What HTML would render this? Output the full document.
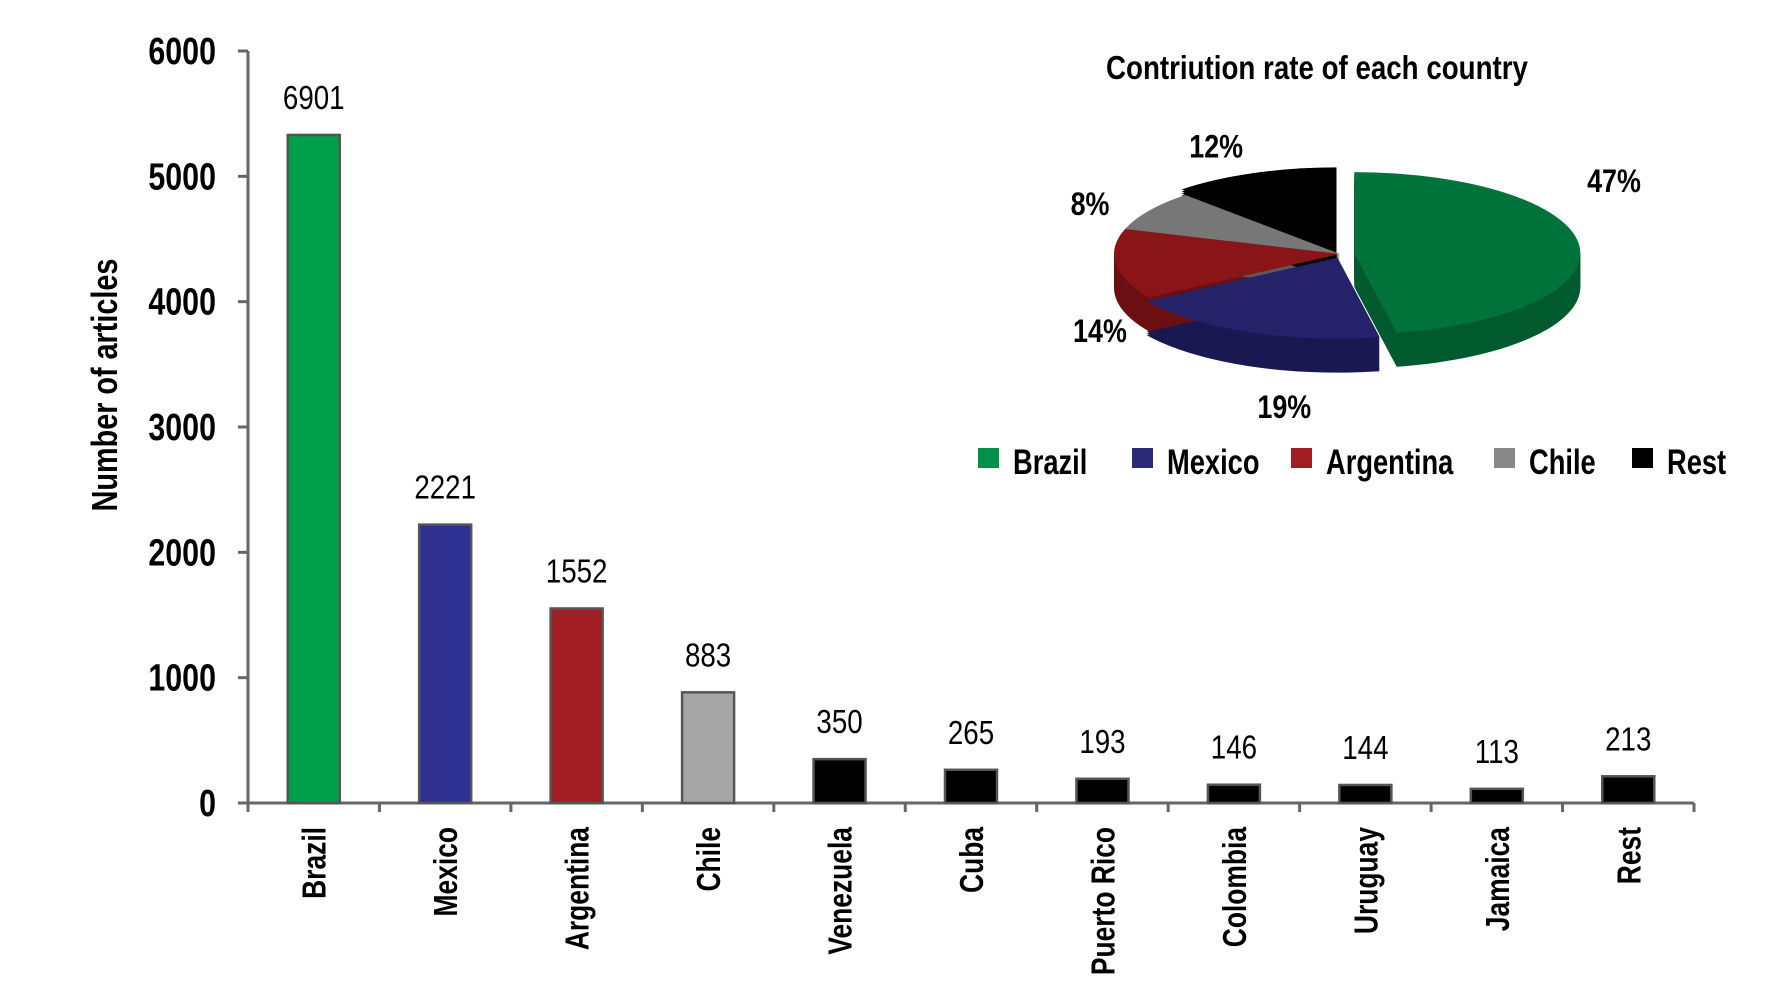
<!DOCTYPE html>
<html><head><meta charset="utf-8"><style>
html,body{margin:0;padding:0;background:#fff;}
svg{display:block;}
text{font-family:"Liberation Sans",sans-serif;fill:#000;}
</style></head><body>
<svg id="c" width="1770" height="983" viewBox="0 0 1770 983">
<g id="bars"></g>
<g id="pie"></g>
</svg>
<script>
const categories=["Brazil","Mexico","Argentina","Chile","Venezuela","Cuba","Puerto Rico","Colombia","Uruguay","Jamaica","Rest"];
const valueLabels=[6901,2221,1552,883,350,265,193,146,144,113,213];
const plotValues=[5330,2221,1552,883,350,265,193,146,144,113,213];
const barColors=["#00a04a","#2e3192","#a31d24","#a6a6a6","#000","#000","#000","#000","#000","#000","#000"];
const yTicks=[0,1000,2000,3000,4000,5000,6000];
const pieLabels=["Brazil","Mexico","Argentina","Chile","Rest"];
const pieShares=[47,19,14,8,12];
const pieColors=["#00733b","#25226a","#8a1519","#777777","#000000"];
const pieSide=["#005a2e","#1a1850","#6a0f12","#5a5a5a","#000000"];
const legendColors=["#00904a","#2a2a78","#a01d24","#888888","#000000"];

const NS="http://www.w3.org/2000/svg";
function mk(tag,attrs,parent,txt){const e=document.createElementNS(NS,tag);for(const k in attrs)e.setAttribute(k,attrs[k]);if(txt!==undefined)e.textContent=txt;parent.appendChild(e);return e;}
function tx(parent,x,y,str,size,sx,anchor,weight,rot){
  return mk('text',{x:0,y:0,transform:`translate(${x},${y}) rotate(${rot||0}) scale(${sx},1)`,'text-anchor':anchor||'start','font-size':size,'font-weight':weight||'normal'},parent,str);
}
const bars=document.getElementById('bars');
const x0=248,x1=1694,y0=803,yTop=51,vMax=6000;
const bw=(x1-x0)/categories.length;
const yS=v=>y0-(v/vMax)*(y0-yTop);
const xS=i=>x0+bw*(i+0.5);

let ax=mk('line',{x1:x0,y1:yTop,x2:x0,y2:y0+8,stroke:'#666','stroke-width':3},bars);

let bx=mk('line',{x1:x0-10,y1:y0,x2:x1,y2:y0,stroke:'#666','stroke-width':3},bars);

yTicks.forEach(v=>{
  const y=yS(v);
  mk('line',{x1:x0-10,y1:y,x2:x0,y2:y,stroke:'#666','stroke-width':3},bars);
  const t=tx(bars,216,y+13,String(v),38,0.8,'end','bold');
  
});
for(let i=0;i<=categories.length;i++){mk('line',{x1:x0+bw*i,y1:y0,x2:x0+bw*i,y2:y0+9,stroke:'#666','stroke-width':3},bars);}
const yt=tx(bars,117,385,'Number of articles',36,0.8,'middle','bold',-90);

categories.forEach((c,i)=>{
  const cx=xS(i),top=yS(plotValues[i]),w=52;
  const r=mk('rect',{x:cx-w/2,y:top,width:w,height:y0-top,fill:barColors[i],stroke:'#555','stroke-width':2.5},bars);
  
  const l=tx(bars,cx,top-26,String(valueLabels[i]),33,0.84,'middle');
  
  const cl=tx(bars,cx+12,827,c,33,0.8,'end','bold',-90);
  
});

// pie
const pie=document.getElementById('pie');
const pt=tx(pie,1317,79,'Contriution rate of each country',33,0.84,'middle','bold');

const pcx=1340,pcy=254,rx=226,ry=81,depth=34;
const explode=[9,4,0,0,6];
const labelOffX=[4,52,29,-21,-24],labelOffY=[-65,63,64,1,-18];
const total=pieShares.reduce((a,b)=>a+b,0);
let ang=-Math.PI/2;const slices=[];
pieShares.forEach((s,i)=>{const a0=ang,a1=ang+s/total*2*Math.PI;ang=a1;const m=(a0+a1)/2;
  slices.push({a0,a1,m,dx:Math.cos(m)*explode[i]*1.6,dy:Math.sin(m)*explode[i]});});
function wedge(sl,off){const cx=pcx+sl.dx,cy=pcy+sl.dy+off;
  const p0=[cx+rx*Math.cos(sl.a0),cy+ry*Math.sin(sl.a0)],p1=[cx+rx*Math.cos(sl.a1),cy+ry*Math.sin(sl.a1)];
  const large=(sl.a1-sl.a0)>Math.PI?1:0;
  return `M${cx},${cy}L${p0[0]},${p0[1]}A${rx},${ry} 0 ${large} 1 ${p1[0]},${p1[1]}Z`;}
const sides=mk('g',{},pie);
slices.forEach((sl,i)=>{for(let d=depth;d>0;d-=2){mk('path',{d:wedge(sl,d),fill:pieSide[i]},sides);}});
slices.forEach((sl,i)=>{const p=mk('path',{d:wedge(sl,0),fill:pieColors[i]},pie);
  });
slices.forEach((sl,i)=>{
  const lx=pcx+Math.cos(sl.m)*rx*1.2+labelOffX[i],ly=pcy+Math.sin(sl.m)*ry*1.2+labelOffY[i]+12;
  const t=tx(pie,lx,ly,pieShares[i]+'%',32,0.84,'middle','bold');
  });
const legX=[978,1132,1291,1494,1632];
pieLabels.forEach((n,i)=>{
  const g=mk('g',{},pie);
  mk('rect',{x:legX[i],y:448,width:21,height:20,fill:legendColors[i]},g);
  tx(g,legX[i]+35,474,n,35,0.78,'start','bold');
});
</script>
</body></html>
